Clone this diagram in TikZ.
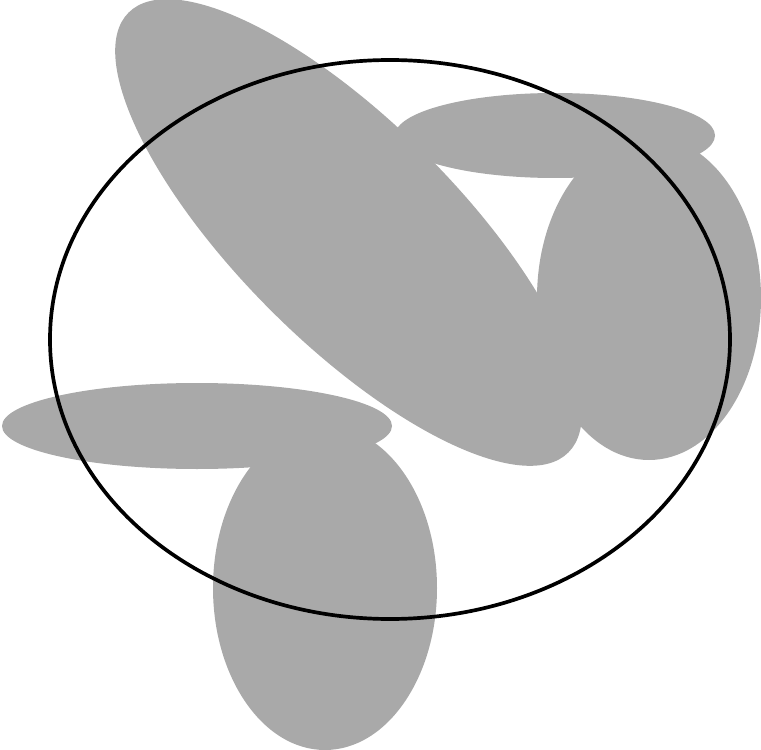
\documentclass[tikz,border=0pt]{standalone}
\usepackage{xcolor}
\usepackage{tikz}
\definecolor{petalgray}{HTML}{A9A9A9}
\tikzset{
  petal/.style={fill=petalgray, draw=none},
  rim/.style={draw=black, line width=2.1pt}
}

\begin{document}
\begin{tikzpicture}[x=0.02cm, y=-0.02cm]
  \useasboundingbox (0,0) rectangle (761,750);
  % grey blobs
  \fill[petal, rotate around={-45:(348.5,232.5)}] (348.5,232.5) ellipse [x radius=311, y radius=110];
  \fill[petal] (555,135.5) ellipse [x radius=160, y radius=42.5];
  \fill[petal] (649,298) ellipse [x radius=112, y radius=162];
  \fill[petal] (197,426) ellipse [x radius=195, y radius=43];
  \fill[petal] (325,588) ellipse [x radius=112, y radius=162];
  % outline
  \draw[rim] (390,339.5) ellipse [x radius=340, y radius=279.5];
\end{tikzpicture}
\end{document}
